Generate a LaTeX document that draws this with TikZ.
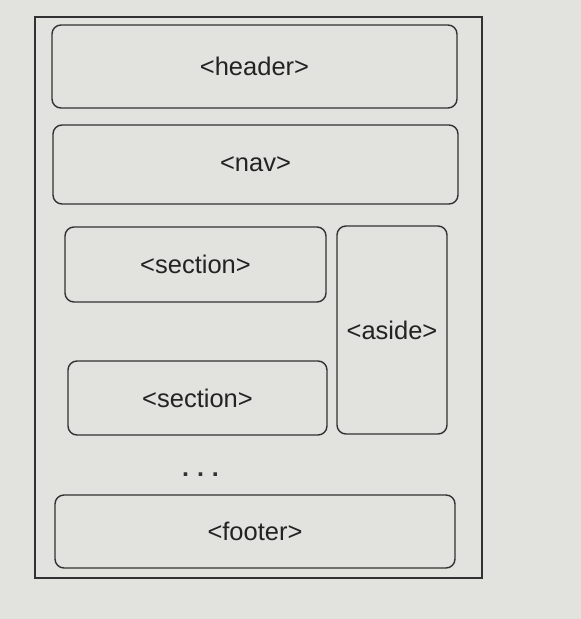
\documentclass[tikz,border=0pt]{standalone}
\usepackage{fontspec}
\setmainfont{Liberation Sans}
\usepackage{xcolor}
\usetikzlibrary{positioning}

\definecolor{paper}{RGB}{226,226,222}
\definecolor{ink}{RGB}{50,50,50}

\tikzset{
    tagbox/.style={draw=ink, line width=1.4pt, rounded corners=9pt, inner sep=0pt,
        font=\fontsize{25.5}{30}\selectfont, text=ink!70!black}
}

\begin{document}
\begin{tikzpicture}[x=1pt, y=-1pt]
    % Page
    \useasboundingbox[fill=paper] (0,0) rectangle (581,619);
    \draw[ink, line width=1.4pt] (35,17) rectangle (482,578);

    % Header and nav
    \node[tagbox, minimum width=405pt, minimum height=83pt] (header) at (254.5,66.5) {<header>};
    \node[tagbox, minimum width=405pt, minimum height=79pt] (nav) at (255.5,164.5) {<nav>};

    % Sections and aside
    \node[tagbox, minimum width=261pt, minimum height=75pt] (section1) at (195.5,264.5) {<section>};
    \node[tagbox, minimum width=110pt, minimum height=208pt] (aside) at (392,330) {<aside>};
    \node[tagbox, minimum width=259pt, minimum height=74pt] (section2) at (197.5,398) {<section>};
    \node[font=\fontsize{25}{30}\bfseries, text=ink, inner sep=0pt] (dots) at (200.5,475)
        {.\hspace{8pt}.\hspace{8pt}.};

    % Footer
    \node[tagbox, minimum width=400pt, minimum height=73pt] (footer) at (255,531.5) {<footer>};
\end{tikzpicture}
\end{document}
